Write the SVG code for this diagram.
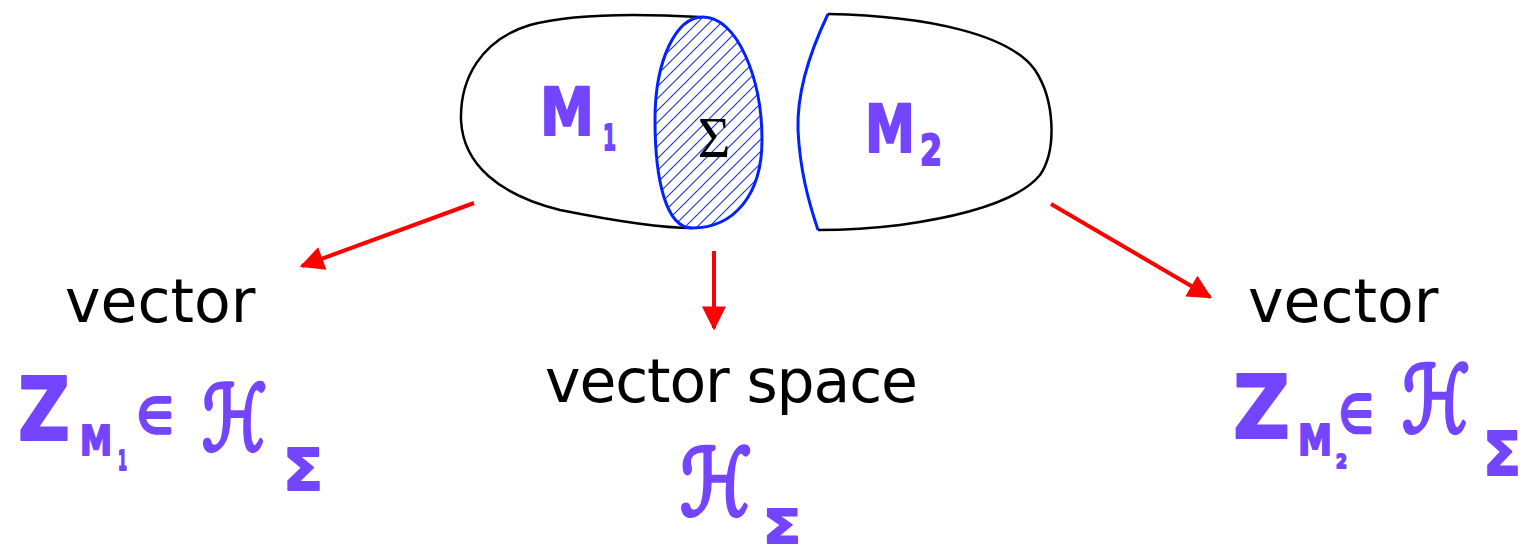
<svg xmlns="http://www.w3.org/2000/svg" width="1522" height="554" viewBox="0 0 1522 554">
<style>
.outline{fill:none;stroke:#000;stroke-width:2.5;stroke-linejoin:round}
.blue{fill:none;stroke:#0022ff;stroke-width:3}
.lbl{font-family:"DejaVu Sans",sans-serif;font-size:60px;fill:#000}
.m{font-family:"DejaVu Sans",sans-serif;font-weight:bold;fill:#7445ff;stroke:#7445ff;stroke-width:2;stroke-linejoin:round}
.thin{font-weight:normal;stroke-width:4;stroke-linecap:round}
.arrow{stroke:#ff0000;stroke-width:4;fill:none}
</style>
<defs>
<marker id="ah" viewBox="0 0 10 10" refX="9" refY="5" markerWidth="6.5" markerHeight="6" markerUnits="strokeWidth" orient="auto">
<path d="M0,0 L10,5 L0,10 Z" fill="#ff0000"/>
</marker>
<pattern id="hatch" width="12" height="12" patternUnits="userSpaceOnUse">
<path d="M-3,3 L3,-3 M0,12 L12,0 M9,15 L15,9" stroke="#2233ff" stroke-width="1.2"/>
</pattern>
</defs>
<g id="M1">
<path class="outline" d="M700,17 C630,13 570,14 530,25 C480,40 460,80 461,120 C463,165 500,195 560,210 C610,220 660,228 692,228"/>
<text class="m" x="540" y="135" font-size="66" textLength="54" lengthAdjust="spacingAndGlyphs">M</text>
<text class="m" x="603" y="150" font-size="36" textLength="13" lengthAdjust="spacingAndGlyphs">1</text>
</g>
<g id="Sigma">
<path d="M703,17 C737,17 762,78 762,140 C762,195 734,228 692,228 C666,228 655,180 655,120 C655,60 676,17 703,17 Z" fill="url(#hatch)" stroke="#0022ff" stroke-width="3"/>
<text x="714" y="157" text-anchor="middle" font-family="Liberation Serif,serif" font-size="56" fill="#000">Σ</text>
</g>
<g id="M2">
<path class="blue" d="M828,14 C806,60 797,100 798,130 C800,170 808,200 818,230"/>
<path class="outline" d="M828,14 C930,16 1010,35 1035,70 C1055,100 1057,150 1040,175 C1015,205 950,218 900,225 C860,230 835,230 818,230"/>
<text class="m" x="865" y="152" font-size="66" textLength="50" lengthAdjust="spacingAndGlyphs">M</text>
<text class="m" x="920" y="165" font-size="42" textLength="22" lengthAdjust="spacingAndGlyphs">2</text>
</g>
<g id="connectors">
<line class="arrow" x1="474" y1="203" x2="302" y2="266" marker-end="url(#ah)"/>
<line class="arrow" x1="714" y1="251" x2="714" y2="328" marker-end="url(#ah)"/>
<line class="arrow" x1="1051" y1="204" x2="1210" y2="297" marker-end="url(#ah)"/>
</g>
<g id="left-label">
<text class="lbl" x="65" y="322">vector</text>
<text class="m" x="18" y="440" font-size="88" textLength="52" lengthAdjust="spacingAndGlyphs">Z</text>
<text class="m" x="80" y="455" font-size="41" textLength="32" lengthAdjust="spacingAndGlyphs">M</text>
<text class="m" x="118" y="470" font-size="27" textLength="9" lengthAdjust="spacingAndGlyphs">1</text>
<text class="m thin" x="137" y="432" font-size="48" textLength="36" lengthAdjust="spacingAndGlyphs">∈</text>
<text class="m thin" x="202" y="450" font-size="90" textLength="65" lengthAdjust="spacingAndGlyphs">ℋ</text>
<text class="m" x="283" y="490" font-size="57" textLength="40" lengthAdjust="spacingAndGlyphs">Σ</text>
</g>
<g id="center-label">
<text class="lbl" x="545" y="402" font-size="58" textLength="373">vector space</text>
<text class="m thin" x="680" y="515" font-size="92" textLength="72" lengthAdjust="spacingAndGlyphs">ℋ</text>
<text class="m" x="763" y="543" font-size="46" textLength="38" lengthAdjust="spacingAndGlyphs">Σ</text>
</g>
<g id="right-label">
<text class="lbl" x="1248" y="322">vector</text>
<text class="m" x="1233" y="438" font-size="88" textLength="57" lengthAdjust="spacingAndGlyphs">Z</text>
<text class="m" x="1298" y="455" font-size="43" textLength="34" lengthAdjust="spacingAndGlyphs">M</text>
<text class="m" x="1336" y="468" font-size="20" textLength="11" lengthAdjust="spacingAndGlyphs">2</text>
<text class="m thin" x="1339" y="432" font-size="52" textLength="34" lengthAdjust="spacingAndGlyphs">∈</text>
<text class="m thin" x="1402" y="432" font-size="92" textLength="68" lengthAdjust="spacingAndGlyphs">ℋ</text>
<text class="m" x="1483" y="475" font-size="60" textLength="38" lengthAdjust="spacingAndGlyphs">Σ</text>
</g>
</svg>
